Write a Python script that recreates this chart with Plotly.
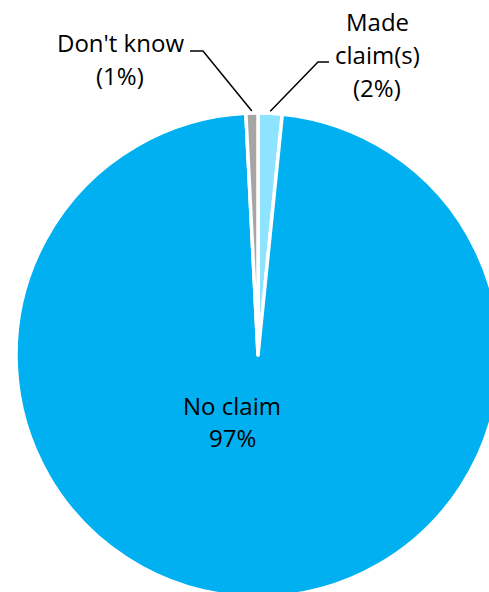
import math
import plotly.graph_objects as go

# ---- data ----
labels = ["Made claim(s)", "No claim", "Don't know"]
values = [1.6, 97.6, 0.8]
label_lines = [["Made", "claim(s)", "(2%)"], ["No claim", "97%"], ["Don't know", "(1%)"]]
colors = ["#8EE3FF", "#00B0F0", "#A6A6A6"]

# ---- geometry (pixels) ----
W, H = 520, 620
cx, cy, R = 258, 355, 242
FONT = "Open Sans"
FS = 24

def px(x):
    return x / W

def py(y):
    return 1 - y / H

fig = go.Figure(go.Pie(
    labels=labels, values=values, sort=False, direction="clockwise", rotation=0,
    marker=dict(colors=colors, line=dict(color="white", width=3.5)),
    textinfo="none", hoverinfo="label+percent", showlegend=False,
    domain=dict(x=[px(cx - R), px(cx + R)], y=[py(cy + R), py(cy - R)]),
))

# slice mid angles (clockwise from 12 o'clock)
total = sum(values)
cum = 0
mids = []
for v in values:
    mids.append((cum + v / 2) / total * 2 * math.pi)
    cum += v

def rim(a, r=R):
    return cx + r * math.sin(a), cy - r * math.cos(a)

shapes = []
# Made claim(s) leader
x0, y0 = rim(mids[0], R + 2)
shapes.append(dict(type="path", xref="paper", yref="paper",
                   path=f"M {px(x0)},{py(y0)} L {px(318)},{py(62)} L {px(329)},{py(62)}",
                   line=dict(color="black", width=1.5)))
# Don't know leader
x1, y1 = rim(mids[2], R + 2)
shapes.append(dict(type="path", xref="paper", yref="paper",
                   path=f"M {px(x1)},{py(y1)} L {px(203)},{py(51)} L {px(190)},{py(51)}",
                   line=dict(color="black", width=1.5)))

annos = []
def add_block(lines, xc, ytop, step):
    for i, t in enumerate(lines):
        annos.append(dict(text=t, x=px(xc), y=py(ytop + i * step), xref="paper", yref="paper",
                          showarrow=False, xanchor="center", yanchor="middle",
                          font=dict(family=FONT, size=FS, color="black")))

add_block(label_lines[0], 377, 21, 33)
add_block(label_lines[1], 232, 405, 32)
add_block(label_lines[2], 120, 43, 32)

fig.update_layout(
    width=W, height=H, autosize=False,
    margin=dict(l=0, r=0, t=0, b=0),
    paper_bgcolor="white", plot_bgcolor="white",
    shapes=shapes, annotations=annos,
)

fig.write_html("out.html", config={"displayModeBar": False},
               post_script="document.body.style.margin='0';document.body.style.overflow='hidden';")
